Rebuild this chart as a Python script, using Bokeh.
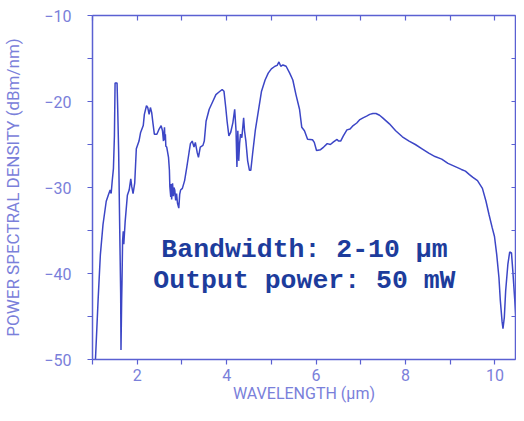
import math
from bokeh.plotting import figure
from bokeh.models import LinearAxis, FixedTicker, Range1d, Label
from bokeh.embed import file_html
from bokeh.resources import INLINE

# ---- data ----
wavelength_um = [
    1.066, 1.125, 1.176, 1.235, 1.307, 1.366, 1.395, 1.417, 1.44, 1.468,
    1.49, 1.505, 1.549, 1.564, 1.585, 1.60, 1.615, 1.63, 1.637, 1.652,
    1.659, 1.673, 1.688, 1.70, 1.73, 1.78, 1.82, 1.856, 1.878, 1.907,
    1.944, 1.98, 2.04, 2.076, 2.135, 2.16, 2.207, 2.236, 2.266, 2.295,
    2.324, 2.354, 2.383, 2.44, 2.49, 2.535, 2.565, 2.587, 2.61, 2.62,
    2.63, 2.64, 2.66, 2.70, 2.72, 2.73, 2.75, 2.76, 2.77, 2.79,
    2.81, 2.82, 2.84, 2.86, 2.88, 2.90, 2.93, 2.95, 2.97, 3.01,
    3.06, 3.11, 3.16, 3.19, 3.23, 3.27, 3.30, 3.34, 3.37, 3.41,
    3.47, 3.50, 3.54, 3.61, 3.69, 3.76, 3.83, 3.90, 3.94, 3.98,
    4.01, 4.05, 4.09, 4.14, 4.18, 4.21, 4.23, 4.25, 4.27, 4.29,
    4.31, 4.34, 4.38, 4.40, 4.43, 4.47, 4.51, 4.54, 4.58, 4.64,
    4.71, 4.78, 4.86, 4.93, 5.00, 5.08, 5.13, 5.17, 5.21, 5.26,
    5.33, 5.41, 5.48, 5.55, 5.63, 5.68, 5.74, 5.81, 5.92, 5.96,
    6.01, 6.10, 6.17, 6.25, 6.32, 6.39, 6.47, 6.50, 6.55, 6.61,
    6.69, 6.76, 6.83, 6.91, 6.98, 7.05, 7.13, 7.20, 7.27, 7.34,
    7.42, 7.49, 7.64, 7.78, 7.93, 8.08, 8.22, 8.37, 8.52, 8.66,
    8.81, 8.95, 9.10, 9.25, 9.34, 9.43, 9.50, 9.61, 9.72, 9.80,
    9.87, 9.94, 9.99, 10.04, 10.09, 10.12, 10.16, 10.18, 10.21, 10.24,
    10.29, 10.33, 10.37, 10.40, 10.44, 10.48,
]
psd_dbm_nm = [
    -50.0, -43.1, -37.8, -34.3, -31.6, -30.7, -30.3, -30.7, -29.3, -27.8,
    -24.0, -17.85, -17.85, -20.9, -25.9, -31.6, -37.0, -42.4, -48.9, -43.1,
    -41.2, -36.2, -35.1, -36.6, -34.0, -30.9, -30.3, -29.0, -29.9, -30.7,
    -29.5, -25.5, -24.6, -23.6, -22.8, -21.5, -20.5, -20.7, -21.5, -20.7,
    -21.3, -22.6, -23.8, -23.8, -23.2, -22.8, -23.4, -24.6, -23.0, -24.5,
    -23.8, -25.2, -25.3, -26.5, -28.0, -29.9, -31.1, -29.6, -31.4, -29.5,
    -31.0, -30.0, -30.3, -31.5, -30.7, -31.8, -32.4, -30.8, -30.3, -30.1,
    -29.2, -27.6, -25.9, -24.9, -24.6, -25.3, -24.75, -25.9, -26.5, -25.3,
    -25.1, -24.6, -22.3, -20.9, -20.0, -19.2, -18.9, -18.6, -18.8, -20.7,
    -22.3, -24.0, -23.6, -22.45, -20.9, -23.4, -27.6, -23.4, -26.9, -24.9,
    -23.8, -24.2, -21.9, -23.4, -24.6, -26.9, -28.0, -28.0, -26.1, -23.4,
    -21.1, -18.8, -17.5, -16.7, -16.2, -15.9, -15.8, -15.4, -15.9, -15.75,
    -15.9, -16.7, -17.5, -19.2, -20.9, -23.0, -23.4, -24.4, -24.45, -24.75,
    -25.7, -25.6, -25.3, -24.9, -25.0, -24.7, -24.4, -24.6, -24.6, -24.0,
    -23.3, -23.2, -22.8, -22.5, -22.1, -21.9, -21.7, -21.5, -21.4, -21.4,
    -21.6, -21.9, -22.6, -23.4, -24.1, -24.6, -25.0, -25.5, -26.0, -26.4,
    -26.7, -27.2, -27.55, -27.9, -28.1, -28.5, -28.8, -29.2, -30.1, -31.6,
    -33.2, -34.7, -35.7, -37.8, -40.5, -43.1, -45.6, -46.4, -45.1, -42.0,
    -38.9, -37.5, -37.6, -39.7, -42.8, -46.0,
]
assert len(wavelength_um) == len(psd_dbm_nm)

x_major = [2, 4, 6, 8, 10]
x_minor = [1, 3, 5, 7, 9]
y_major = [-50, -40, -30, -20, -10]
y_minor = [-45, -35, -25, -15]

x_title = "WAVELENGTH (µm)"
y_title = "POWER SPECTRAL DENSITY (dBm/nm)"
note_lines = ["Bandwidth: 2-10 µm", "Output power: 50 mW"]
note_x = 5.74
note_y = [-37.25, -40.84]

# ---- style ----
AXIS = "#5a60d2"
LBL = "#7a80da"
CURVE = "#3c46c6"
NOTE = "#1d3c9c"

p = figure(width=516, height=405, output_backend="svg", toolbar_location=None,
           x_range=Range1d(1, 10.46), y_range=Range1d(-50, -10),
           x_axis_type=None, y_axis_type=None,
           min_border_left=91, min_border_right=1, min_border_top=15,
           min_border_bottom=0)
p.outline_line_color = None
p.background_fill_color = "white"
p.border_fill_color = "white"


def style_axis(ax, tin, tout):
    ax.axis_line_color = AXIS
    ax.axis_line_width = 1.5
    ax.major_tick_line_color = AXIS
    ax.minor_tick_line_color = AXIS
    ax.major_tick_line_width = 1.2
    ax.minor_tick_line_width = 1.2
    ax.major_tick_in = tin
    ax.major_tick_out = tout
    ax.minor_tick_in = tin
    ax.minor_tick_out = tout
    ax.major_label_text_font = "Roboto"
    ax.major_label_text_color = LBL
    ax.axis_label_text_font = "Roboto"
    ax.axis_label_text_font_style = "normal"
    ax.axis_label_text_color = LBL


xb = LinearAxis(ticker=FixedTicker(ticks=x_major, minor_ticks=x_minor),
                axis_label=x_title)
style_axis(xb, 0, 5)
xb.major_label_text_font_size = "16px"
xb.major_label_standoff = 4
xb.axis_label_text_font_size = "16px"
xb.axis_label_standoff = 0
p.add_layout(xb, "below")

yl = LinearAxis(ticker=FixedTicker(ticks=y_major, minor_ticks=y_minor),
                axis_label=y_title)
style_axis(yl, 0, 5)
yl.major_label_text_font_size = "16px"
yl.major_label_standoff = 16
yl.axis_label_text_font_size = "17px"
yl.axis_label_standoff = 18
p.add_layout(yl, "left")

# mirrored frame axes: ticks only (all as minor ticks -> no labels)
xt = LinearAxis(ticker=FixedTicker(ticks=[], minor_ticks=sorted(x_major + x_minor)))
style_axis(xt, 5, 0)
xt.major_label_standoff = 0
p.add_layout(xt, "above")

yr = LinearAxis(ticker=FixedTicker(ticks=[], minor_ticks=sorted(y_major + y_minor)))
style_axis(yr, 4, 0)
yr.major_label_standoff = 0
p.add_layout(yr, "right")

p.line(wavelength_um, psd_dbm_nm, line_color=CURVE, line_width=1.5)

for txt, yy in zip(note_lines, note_y):
    p.add_layout(Label(x=note_x, y=yy, text=txt, text_align="center",
                       text_baseline="alphabetic", text_font="Liberation Mono",
                       text_font_style="bold", text_font_size="26.5px",
                       text_color=NOTE))

open("out.html", "w").write(file_html(p, INLINE))
